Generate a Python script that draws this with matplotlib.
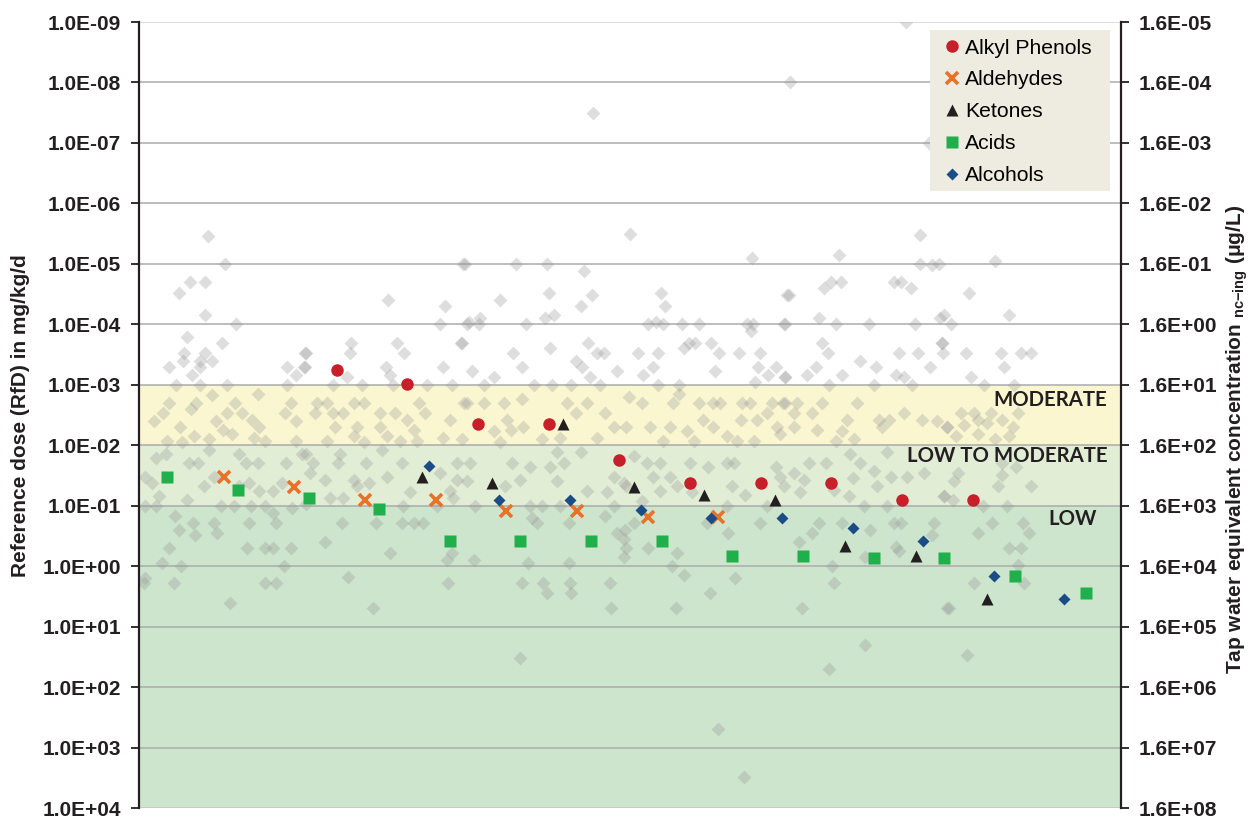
import matplotlib
matplotlib.use('Agg')
import matplotlib.pyplot as plt
from matplotlib.patches import Rectangle

plt.rcParams['font.family'] = ['Liberation Sans', 'DejaVu Sans']
plt.rcParams['mathtext.fontset'] = 'custom'
plt.rcParams['mathtext.rm'] = 'Liberation Sans:bold'
plt.rcParams['mathtext.bf'] = 'Liberation Sans:bold'
plt.rcParams['mathtext.it'] = 'Liberation Sans:bold'
plt.rcParams['mathtext.default'] = 'bf'

# ---------------- data ----------------
# Background: all other chemicals (x = position index, RfD in mg/kg/d)
background_points = [
    (64.3, 3.2e-8), (92.2, 1e-8), (108.5, 1e-9), (111.8, 1e-7),
    # left block
    (9.7, 3.5e-6), (12.2, 1e-5), (7.2, 2e-5), (9.4, 2e-5), (5.6, 3e-5), (9.3, 7e-5), (13.7, 1e-4),
    (6.75, 1.6e-4), (11.8, 2e-4), (6.4, 3e-4), (9.4, 3e-4), (4.2, 5e-4), (6.2, 4e-4), (8.6, 4e-4),
    (10.3, 4e-4), (8.6, 5e-4), (7.5, 7e-4), (21, 5e-4), (23.5, 3e-4), (23.4, 5e-4), (22.2, 7e-4),
    (5.2, 1e-3), (12.4, 1e-3), (21, 1e-3), (8.6, 1e-3),
    (10.3, 1.5e-3), (16.8, 1.4e-3), (4.2, 2e-3), (8.1, 2e-3), (13.6, 2e-3), (21.5, 2e-3), (3.4, 2.9e-3),
    (7.3, 2.5e-3), (12.4, 2.9e-3), (14.6, 2.9e-3), (20.7, 2.9e-3), (2.1, 4e-3), (10.9, 4e-3), (16, 3.8e-3),
    (22.2, 4e-3), (5.8, 5e-3), (11.9, 5.5e-3), (17, 5e-3), (7.8, 7e-3), (13.2, 6.5e-3), (16.3, 7.5e-3),
    (4, 8.5e-3), (9.9, 8e-3), (17.9, 8.5e-3), (22.2, 8.5e-3),
    (6.1, 9e-3), (2.4, 1.6e-2), (3.8, 1.4e-2), (14.2, 1.4e-2), (7.1, 2e-2), (8.4, 2e-2), (15.1, 2e-2),
    (16.8, 2e-2), (20.8, 2e-2), (9.9, 1.2e-2), (23.1, 1.4e-2), (0.85, 3.3e-2), (1.9, 4.2e-2), (10.6, 3.3e-2),
    (15.6, 4.2e-2), (9.2, 4.7e-2), (14.2, 4.7e-2), (17, 5.8e-2), (18.9, 5.8e-2), (20.3, 4.2e-2), (2.8, 7e-2),
    (6.8, 8e-2), (0.9, 0.1), (2.4, 0.1), (11.6, 0.1), (13.5, 0.1), (15.8, 0.1), (17.9, 0.1), (21.7, 0.11),
    (23.6, 0.095),
    (5.1, 0.15), (7.6, 0.19), (10.6, 0.19), (15.6, 0.19), (19.4, 0.19), (18.9, 0.13), (5.6, 0.25),
    (7.9, 0.3), (11.1, 0.28), (4.3, 0.5), (15.3, 0.5), (17.8, 0.5), (18.9, 0.5), (21.5, 0.5), (3.2, 0.9),
    (6, 1.0), (20.5, 1.0), (0.85, 1.6), (0.7, 1.9), (4.9, 1.9), (17.9, 1.9), (19.4, 1.9), (12.9, 4.0),
    # block 2
    (45.9, 1e-5), (35.3, 4e-5), (43.3, 5e-5), (42.6, 1e-4), (46.4, 1e-4), (30, 2e-4), (36.5, 2e-4),
    (45.6, 2e-4), (23.7, 3e-4), (29.9, 3e-4), (37.5, 3e-4), (23.5, 5e-4), (35, 5e-4), (43.1, 5e-4),
    (29.4, 7.5e-4), (35.5, 7e-4), (27.5, 1e-3), (31.5, 1e-3), (36, 1e-3), (40.7, 1e-3), (44.3, 1e-3),
    (25.2, 2e-3), (26.6, 2e-3), (30.4, 2e-3), (31.8, 2e-3), (39.6, 2e-3), (46, 2e-3), (24.9, 2.9e-3),
    (27.5, 2.9e-3), (28.9, 2.9e-3), (34.1, 2.9e-3), (36.3, 2.9e-3), (40.5, 2.9e-3), (27.8, 5e-3),
    (30.8, 5e-3), (34.1, 5e-3), (37.9, 3.8e-3), (44, 3.8e-3), (30.4, 7e-3), (35.1, 7e-3), (38.9, 5.5e-3),
    (26.6, 8.5e-3), (37, 8.5e-3), (39.3, 8.5e-3), (43.1, 7.5e-3), (31.8, 9e-3),
    (23.7, 1.4e-2), (28.5, 1.4e-2), (34.4, 1.2e-2), (24.7, 2e-2), (28.2, 2e-2), (32.2, 2e-2), (37.2, 2e-2),
    (45, 2e-2), (24.2, 2.9e-2), (26.3, 3.7e-2), (30.4, 3.7e-2), (35.1, 3.3e-2), (42.6, 2.9e-2), (45, 3.7e-2),
    (27.1, 7.5e-2), (30.8, 4.7e-2), (32.5, 4.2e-2), (38.4, 6e-2), (44, 5.8e-2), (28.9, 7.5e-2), (37.4, 0.1),
    (42.2, 0.1), (44.5, 7.5e-2),
    (28.8, 0.19), (33.6, 0.19), (37.2, 0.19), (38.9, 0.19), (40.2, 0.19), (26.3, 0.4), (35.5, 0.6),
    (43.6, 0.8), (44.3, 0.6), (29.6, 1.5), (43.8, 1.9), (33.1, 4.9),
    # block 3
    (46.2, 1e-5), (53.4, 1e-5), (57.8, 1e-5), (63, 1.3e-5), (51.1, 4e-5), (58.1, 3e-5), (64.1, 3.3e-5),
    (62.6, 5e-5), (48.3, 8e-5), (46.7, 9e-5), (48.1, 1e-4), (54.8, 1e-4), (57.5, 8e-5), (58.7, 7e-5),
    (45.7, 2e-4), (52.9, 3e-4), (58.2, 2.5e-4), (63.6, 2e-4), (64.8, 3e-4), (65.8, 3e-4), (54.2, 5e-4),
    (61.8, 4e-4), (62.7, 5e-4), (47.1, 6e-4), (67.7, 6e-4), (50.2, 7.5e-4), (63.8, 7.5e-4), (48.9, 1e-3),
    (55.9, 1e-3), (58.5, 1e-3), (61.1, 1e-3), (65.3, 1e-3),
    (46.4, 2e-3), (48.8, 2e-3), (51.6, 2e-3), (54.2, 1.7e-3), (60.6, 2e-3), (63.4, 2e-3), (52.1, 3.8e-3),
    (54.4, 5e-3), (61.8, 2.9e-3), (66, 2.9e-3), (50.2, 5.8e-3), (52.6, 5.5e-3), (67.2, 5e-3), (57, 8e-3),
    (59.6, 7.5e-3), (51.1, 9e-3), (64.8, 7.5e-3), (45.7, 8e-3),
    (59.2, 1.3e-2), (62.5, 1.3e-2), (46.9, 2e-2), (52.8, 2e-2), (55.4, 2.3e-2), (58.2, 2.3e-2), (60.1, 2e-2),
    (46.4, 3.9e-2), (54, 3.7e-2), (59.2, 3.9e-2), (67.2, 3.3e-2), (68.6, 4.2e-2), (63.4, 5.8e-2),
    (66.2, 6e-2), (51.8, 4.7e-2), (47.6, 0.1), (55.4, 0.1), (57, 0.1), (59.6, 0.1), (67.2, 0.1),
    (55.6, 0.16), (56.3, 0.19), (60.8, 0.19), (66, 0.15), (67.7, 0.28), (68.6, 0.35), (47.4, 0.8),
    (55.1, 0.9), (60.8, 0.9), (54.2, 1.9), (57.2, 1.9), (57.7, 2.8), (61, 1.9), (61.2, 2.8), (66.6, 1.9),
    (66.8, 4.9),
    # block 4
    (69.5, 3.2e-6), (86.7, 8e-6), (73.9, 3e-5), (74.5, 5e-5), (91.7, 3.3e-5), (72.1, 1e-4), (73.2, 9e-5),
    (74.2, 1e-4), (76.8, 1e-4), (79.3, 1e-4), (86, 1e-4), (86.9, 1e-4), (86.6, 1.3e-4), (91.3, 1e-4),
    (77.1, 2.5e-4), (77.8, 2e-4), (78.7, 2e-4), (80.9, 2e-4), (70.7, 3e-4), (73.5, 3e-4), (82.1, 3e-4),
    (84.9, 3e-4), (87.9, 3e-4), (72.8, 5e-4), (87.6, 5e-4), (90.2, 5e-4), (81.6, 6e-4), (89, 7e-4),
    (71.4, 7e-4), (87.2, 9e-4), (91.5, 7.5e-4), (73.5, 1e-3), (76.4, 1e-3),
    (69.3, 1.6e-3), (71.2, 2e-3), (76.4, 1.4e-3), (75.6, 2e-3), (79.2, 2e-3), (81.3, 2e-3), (82.3, 2e-3),
    (85.3, 2e-3), (86.5, 2e-3), (89.6, 2e-3), (91.2, 2e-3), (79.9, 3.8e-3), (85.2, 3.8e-3), (87.5, 3.8e-3),
    (88.9, 2.9e-3), (69, 5e-3), (72.4, 5e-3), (75.2, 5e-3), (77.5, 5.8e-3), (81.3, 5e-3), (83.2, 7e-3),
    (90.3, 5e-3), (90.8, 6.5e-3), (74.2, 8.5e-3), (78.5, 8.5e-3), (87, 8.5e-3), (84.6, 8.5e-3),
    (70, 1.5e-2), (71.9, 2e-2), (73.8, 2e-2), (78, 2e-2), (80.6, 2.3e-2), (83.2, 2e-2), (84.2, 2e-2),
    (90.1, 2.3e-2), (72.8, 3.3e-2), (75.2, 3.3e-2), (83.9, 4.7e-2), (90.8, 3.3e-2), (73.8, 5.8e-2),
    (76.1, 4.7e-2), (78.3, 6e-2), (85.8, 6.6e-2), (69, 4.7e-2), (83.2, 0.1), (88.9, 0.1), (71.2, 0.085),
    (70, 0.19), (68.8, 0.25), (80.4, 0.19), (87.9, 0.19), (83.4, 0.28), (69, 0.5), (72, 0.5), (76.1, 0.6),
    (68.6, 0.7), (75.4, 1.0), (77.1, 1.4), (84.4, 1.6), (80.8, 2.8), (76, 4.9),
    # block 5
    (110.6, 3.3e-6), (99.1, 7.2e-6), (110.6, 1e-5), (112.3, 1.05e-5), (113.2, 1e-5), (96.9, 2.5e-5),
    (98, 2e-5), (99.4, 2e-5), (106.8, 2e-5), (107.9, 2e-5), (109.3, 2.5e-5), (92, 3.3e-5), (96.2, 8e-5),
    (91.5, 1e-4), (98.7, 1e-4), (103.3, 1e-4), (109.9, 1e-4), (113.4, 8e-5), (96.7, 2e-4), (97.5, 3e-4),
    (107.6, 3e-4), (110.2, 3e-4), (113.6, 2e-4), (113.8, 3e-4), (95.8, 5e-4), (102.1, 4e-4), (104.3, 5e-4),
    (112, 5e-4), (94.6, 7e-4), (99.5, 7e-4), (107.1, 7e-4), (108.3, 7.5e-4), (91.5, 7.5e-4), (97.6, 1e-3),
    (104, 1e-3), (109.4, 1e-3),
    (91.5, 2e-3), (93.2, 2e-3), (96.7, 2e-3), (101.7, 2e-3), (92.7, 2.9e-3), (95.3, 2.9e-3), (108.3, 2.9e-3),
    (100.2, 3.8e-3), (104.7, 3.8e-3), (106.1, 3.8e-3), (110.9, 3.8e-3), (113, 4e-3), (92.7, 5e-3),
    (96, 5.5e-3), (99.5, 5.8e-3), (105.2, 5e-3), (114.4, 5e-3), (98.6, 8.5e-3), (101.2, 8e-3),
    (100.7, 1.4e-2), (102.1, 2e-2), (97.2, 2e-2), (105.9, 1.3e-2), (94.8, 2e-2), (92.7, 2.9e-2),
    (94.1, 3.7e-2), (104, 2.7e-2), (106.4, 3.3e-2), (108.7, 3.3e-2), (111.1, 2.9e-2), (101, 3.5e-2),
    (91.3, 4.7e-2), (93.6, 6e-2), (98.4, 5.5e-2), (100.5, 7e-2), (104.5, 4.7e-2), (102.6, 0.1),
    (105.9, 0.1), (113.9, 7e-2),
    (96.2, 0.19), (99.5, 0.19), (106.9, 0.19), (107.8, 0.19), (112.6, 0.19), (95.3, 0.28), (103.5, 0.25),
    (93.4, 0.4), (107.1, 0.48), (107.6, 0.57), (112.3, 0.3), (102.8, 0.7), (98.1, 1.0), (98.4, 1.9),
    (93.9, 4.9), (114.4, 4.9),
    # right block
    (121.1, 9e-6), (117.5, 3e-5), (123.2, 7e-5), (114, 7e-5), (114.9, 1e-4), (113.7, 2e-4), (117, 3e-4),
    (122, 3e-4), (124.8, 3e-4), (126.2, 3e-4), (122.5, 5e-4), (117.7, 7.5e-4), (119.6, 1e-3), (123.9, 1e-3),
    (116.3, 2.9e-3), (118.2, 2.9e-3), (120.6, 2.9e-3), (124.4, 2.9e-3), (114.4, 5e-3), (116.8, 4.7e-3),
    (118.7, 3.8e-3), (120.1, 4.3e-3), (122.2, 3.8e-3), (123.7, 5e-3), (115.6, 7e-3), (118.7, 6.5e-3),
    (121.1, 8e-3), (123.2, 7e-3),
    (122.2, 2e-2), (124.1, 2.3e-2), (115.9, 2.9e-2), (122.2, 3.1e-2), (115.4, 3.9e-2), (121.6, 4.7e-2),
    (126.2, 4.7e-2), (114, 7e-2), (115.2, 8e-2), (119.4, 0.1), (122.9, 0.1),
    (120.8, 0.19), (125.1, 0.19), (126, 0.28), (118.7, 0.28), (123.2, 0.5), (124.8, 0.5), (124.4, 0.95),
    (118.2, 1.9), (125.3, 1.9), (114.7, 4.9),
    # low-dose outliers
    (53.9, 33), (81.9, 500), (85.6, 3100), (102.8, 20), (97.6, 50), (117.2, 30),
]

phenol_x = [28, 38, 48, 58, 68, 78, 88, 98, 108, 118]
phenol_rfd = [5.8e-4, 9.6e-4, 4.5e-3, 4.5e-3, 1.74e-2, 4.2e-2, 4.2e-2, 4.2e-2, 8.0e-2, 8.0e-2]

aldehyde_x = [12, 22, 32, 42, 52, 62, 72, 82]
aldehyde_rfd = [0.033, 0.050, 0.080, 0.080, 0.121, 0.121, 0.156, 0.156]

ketone_x = [40, 50, 60, 70, 80, 90, 100, 110, 120]
ketone_rfd = [0.034, 0.042, 4.5e-3, 0.050, 0.067, 0.080, 0.46, 0.68, 3.5]

acid_x = [4, 14, 24, 34, 44, 54, 64, 74, 84, 94, 104, 114, 124, 134]
acid_rfd = [0.034, 0.054, 0.074, 0.114, 0.39, 0.39, 0.39, 0.39, 0.68, 0.68, 0.74, 0.74, 1.47, 2.81]

alcohol_x = [41, 51, 61, 71, 81, 91, 101, 111, 121, 131]
alcohol_rfd = [0.022, 0.080, 0.080, 0.119, 0.158, 0.158, 0.231, 0.384, 1.46, 3.53]

left_ticks = [10.0 ** k for k in range(-9, 5)]
right_ticks = [1.6 * 10.0 ** k for k in range(-5, 9)]
conversion = 1.6e4   # mg/kg/d -> ug/L

bands = [(1e-3, 1e-2, '#FAF7D0'), (1e-2, 1e-1, '#E1EDD4'), (1e-1, 1e4, '#CCE5CC')]
band_labels = [('MODERATE', 137.1, 1.8e-3), ('LOW TO MODERATE', 137.1, 1.5e-2), ('LOW', 135.6, 0.166)]

# ---------------- figure ----------------
fig = plt.figure(figsize=(12.5, 8.19), dpi=100)
ax = fig.add_axes([139 / 1250, 11 / 819, 982 / 1250, 786 / 819])
ax.set_yscale('log')
ax.set_xlim(0, 139)
ax.set_ylim(1e4, 1e-9)

for lo, hi, c in bands:
    ax.axhspan(lo, hi, color=c, lw=0, zorder=0)

for k, t in enumerate(left_ticks):
    col = '#d4d4d4' if k == 0 else ('#c4c4c4' if k == len(left_ticks) - 1 else '#ababab')
    ax.axhline(t, color=col, lw=1.1, zorder=1)

gx = [p[0] for p in background_points]
gy = [p[1] for p in background_points]
ax.scatter(gx, gy, marker='D', s=50, color='#9a9a9a', alpha=0.32, lw=0, zorder=2)

ax.plot(phenol_x, phenol_rfd, ls='none', marker='o', ms=9, color='#C8202B', mec='none', zorder=5,
        label='Alkyl Phenols')
ax.plot(aldehyde_x, aldehyde_rfd, ls='none', marker='x', ms=8, mew=2.6, color='#E8722A', zorder=5,
        label='Aldehydes')
ax.plot(ketone_x, ketone_rfd, ls='none', marker='^', ms=8.8, color='#231F20', mec='none', zorder=5,
        label='Ketones')
ax.plot(acid_x, acid_rfd, ls='none', marker='s', ms=8, color='#20B04B', mec='none', zorder=5,
        label='Acids')
ax.plot(alcohol_x, alcohol_rfd, ls='none', marker='D', ms=6.3, color='#1A4C86', mec='none', zorder=5,
        label='Alcohols')

for txt, x, y in band_labels:
    ax.text(x, y, txt, ha='right', va='center', fontsize=14.7, fontweight='bold',
            family=['Lato', 'DejaVu Sans'], color='#231F20', zorder=6)

ax.set_xticks([])
ax.set_yticks(left_ticks)
ax.minorticks_off()
ax.set_yticklabels(['{:.1E}'.format(t) for t in left_ticks], fontsize=15, fontweight='bold')
ax.tick_params(axis='y', direction='out', length=6, width=1.3, pad=7, colors='#231F20')
for s in ['top', 'bottom']:
    ax.spines[s].set_visible(False)
ax.spines['left'].set_linewidth(1.6)
ax.spines['left'].set_color('#231F20')
ax.spines['right'].set_visible(False)

ax2 = ax.twinx()
ax2.set_yscale('log')
ax2.set_ylim(1e4 * conversion, 1e-9 * conversion)
ax2.set_yticks(right_ticks)
ax2.minorticks_off()
ax2.set_yticklabels(['{:.1E}'.format(t) for t in right_ticks], fontsize=15, fontweight='bold')
ax2.tick_params(axis='y', direction='out', length=6, width=1.3, pad=7, colors='#231F20')
for s in ['top', 'bottom', 'left']:
    ax2.spines[s].set_visible(False)
ax2.spines['right'].set_linewidth(1.6)
ax2.spines['right'].set_color('#231F20')

# legend: beige box + frameless legend inside
ax.add_patch(Rectangle((0.8055, 0.78499), 0.1833, 0.2048, transform=ax.transAxes,
                       facecolor='#EEEBE0', edgecolor='none', zorder=9))
leg = ax.legend(loc='upper left', bbox_to_anchor=(0.8192, 0.979), frameon=False, fontsize=15.2,
                handlelength=0.8, handletextpad=0.22, labelspacing=0.61, borderpad=0,
                borderaxespad=0, numpoints=1)
leg.set_zorder(10)

fig.text(21 / 1250, 1 - 416 / 819, 'Reference dose (RfD) in mg/kg/d', rotation=90, ha='center',
         va='center', fontsize=15, fontweight='bold', color='#231F20')
fig.text(1237 / 1250, 1 - 439 / 819, r'Tap water equivalent concentration $_{nc{-}ing}$ (μg/L)',
         rotation=90, ha='center', va='center', fontsize=15, fontweight='bold', color='#231F20')

fig.savefig('out.png', dpi=100)
